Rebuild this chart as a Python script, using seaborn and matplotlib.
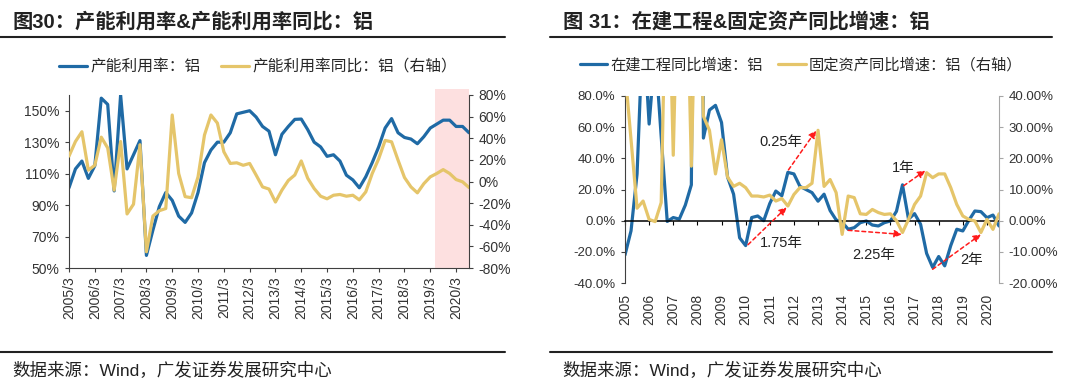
import numpy as np
import pandas as pd
import matplotlib
matplotlib.use('Agg')
import matplotlib.pyplot as plt
import seaborn as sns
from matplotlib.lines import Line2D

sns.set_style('ticks')
plt.rcParams['font.family'] = ['Liberation Sans', 'Noto Sans CJK SC']
plt.rcParams['axes.unicode_minus'] = False

BLUE = '#1f6aa5'
GOLD = '#e5c56a'
INK = '#222222'

# ---- 图30: 季度数据 2005/3 .. 2020/9 ----
cap_util = [101, 113, 118, 107, 115, 158, 154, 99, 160, 113, 122, 131, 58, 74, 89, 98,
            93, 83, 79, 85, 98, 117, 125, 130, 130, 136, 148, 149, 150, 146, 140, 137,
            122, 135, 140, 144.5, 144.7, 138, 130, 127, 121, 122, 118, 109, 106, 101, 108, 117,
            127, 139, 145, 136, 133, 132, 129, 133.5, 139, 141.5, 144, 144, 140, 140, 136]
cap_util_yoy = [23.5, 37, 46, 10.5, 15, 41, 31, -8, 37, -30, -21, 34, -65, -32, -27, -25,
                61.5, 7.4, -14, -15, 4.3, 43, 61.5, 54, 27.5, 16.7, 17.3, 15, 16.7, 6, -5, -7,
                -19, -8, 1, 6, 19, 3, -6.5, -13.6, -16, -12.7, -12, -13.6, -12.7, -17, -9.6, 7.4,
                21, 38, 36.7, 19.8, 3.7, -5, -10.5, -2, 4.3, 7.4, 11, 7.4, 1.8, -0.3, -5.6]
labels_l = [f'{y}/3' for y in range(2005, 2021)]

# ---- 图31 ----
cip_yoy = [-22, -6.5, 30, 128, 62, 110, 54, -0.5, 2, 1, 10, 23, 600, 53, 71, 74,
           63, 28, 17, -11, -16, 2, 3, 0, 11, 19, 16, 31, 30, 22, 20, 18,
           12.5, 17, 6.5, 0.5, -1, -5.5, -4.5, -1.3, -0.2, -2.8, -3.4, -1.3, -0.2, 6, 23, 1,
           4.5, -2.3, -21, -30, -23, -29, -16, -5.5, -6.6, 0.2, 6.2, 5.8, 1.9, 3.6, -3.4]
fai_yoy = [48, 26, 4, 6.3, 0.4, -0.3, 5.8, 100, 21, 100, 100, 17.5, 100, 33.5, 29, 15,
           26, 14, 11, 12, 10.6, 7.9, 7.9, 7.6, 8.2, 6.3, 7.1, 4.7, 8.4, 10.6, 10.6, 12,
           29, 11, 13.2, 9, -4.4, 7.9, 7.4, 2.2, 2, 3.6, 2.6, 2, 2.2, 0, -3.8, 0.4,
           5.2, 7.9, 15.4, 13.8, 15, 15, 10.6, 5.2, 1.5, 0.4, -0.1, -3.8, 0.4, -2.8, 2.2]
labels_r = [str(y) for y in range(2005, 2021)]

# (起点, 终点, 文字位置, 文字)  -- 左轴单位
notes = [((20.4, -15.4), (26.8, 8.6), (26.0, -14.5), '1.75年'),
         ((27.1, 32.6), (31.7, 57.9), (25.9, 50.2), '0.25年'),
         ((37.0, -6.2), (45.9, -8.8), (41.3, -22.0), '2.25年'),
         ((46.2, 22.4), (49.8, 32.2), (46.1, 33.9), '1年'),
         ((51.0, -31.2), (59.0, -8.8), (57.4, -25.0), '2年')]

dfl = pd.DataFrame({'q': range(len(cap_util)), 'util': cap_util, 'yoy': cap_util_yoy})
dfr = pd.DataFrame({'q': range(len(cip_yoy)), 'cip': cip_yoy, 'fai': fai_yoy})

fig = plt.figure(figsize=(10.8, 3.88), dpi=100)
W, H = 1080, 388


def fx(px):
    return px / W


def fy(py):
    return 1 - py / H


def style_y(ax, color, labels, ticks, size):
    ax.set_yticks(ticks, labels=labels)
    ax.tick_params(axis='y', length=3, width=0.8, pad=4, labelsize=size,
                   color=color, labelcolor='#333333')


# ================= 左图 =================
ax1 = fig.add_axes([fx(69), fy(268), fx(469 - 69), (268 - 95) / H])
ax1.axvspan(56.7, 62, ymin=0, ymax=1.035, color='#fde0e0', lw=0, zorder=0, clip_on=False)
sns.lineplot(data=dfl, x='q', y='util', ax=ax1, color=BLUE, lw=2.3)
ax1b = ax1.twinx()
sns.lineplot(data=dfl, x='q', y='yoy', ax=ax1b, color=GOLD, lw=2.3)

ax1.set_xlim(0, 62)
ax1.set_ylim(50, 160)
ax1b.set_ylim(-80, 80)
style_y(ax1, '#404040', [f'{v}%' for v in range(50, 151, 20)], range(50, 151, 20), 10)
style_y(ax1b, '#404040', [f'{v}%' for v in range(-80, 81, 20)], range(-80, 81, 20), 10)
ax1.set_xticks(range(0, 61, 4), labels=labels_l)
ax1.tick_params(axis='x', length=3, width=0.8, pad=3, labelsize=10, labelrotation=90,
                color='#404040', labelcolor='#333333')
for a in (ax1, ax1b):
    a.set_xlabel('')
    a.set_ylabel('')
ax1.spines['top'].set_visible(False)
ax1.spines['right'].set_visible(False)
for s in ('top', 'left', 'bottom'):
    ax1b.spines[s].set_visible(False)
ax1.spines['left'].set_color('#404040')
ax1.spines['bottom'].set_color('#404040')
ax1b.spines['right'].set_color('#404040')

# ================= 右图 =================
ax2 = fig.add_axes([fx(625), fy(283), fx(999 - 625), (283 - 96) / H])
sns.lineplot(data=dfr, x='q', y='cip', ax=ax2, color=BLUE, lw=2.3)
ax2b = ax2.twinx()
sns.lineplot(data=dfr, x='q', y='fai', ax=ax2b, color=GOLD, lw=2.3)

ax2.set_xlim(0, 62)
ax2.set_ylim(-40, 80)
ax2b.set_ylim(-20, 40)
style_y(ax2, '#404040', [f'{v:.1f}%' for v in range(-40, 81, 20)], range(-40, 81, 20), 9.5)
style_y(ax2b, '#a6a6a6', [f'{v:.2f}%' for v in range(-20, 41, 10)], range(-20, 41, 10), 9.5)
for a in (ax2, ax2b):
    a.set_xlabel('')
    a.set_ylabel('')
ax2.spines['bottom'].set_position(('data', 0))
ax2.spines['bottom'].set_color('black')
ax2.spines['bottom'].set_linewidth(1.1)
ax2.spines['top'].set_visible(False)
ax2.spines['right'].set_visible(False)
ax2.spines['left'].set_color('#404040')
for s in ('top', 'left', 'bottom'):
    ax2b.spines[s].set_visible(False)
ax2b.spines['right'].set_color('#a6a6a6')
ax2.set_xticks(range(0, 61, 4))
ax2.tick_params(axis='x', length=3, width=0.8, color='black', labelbottom=False)
sec = ax2.secondary_xaxis('bottom')
sec.set_xticks(range(0, 61, 4), labels=labels_r)
sec.tick_params(axis='x', length=0, pad=8, labelsize=10, labelrotation=90, labelcolor='#333333')
sec.spines['bottom'].set_visible(False)

for start, end, tpos, txt in notes:
    ax2b.annotate('', xy=end, xytext=start, xycoords=ax2.transData, textcoords=ax2.transData,
                  arrowprops=dict(arrowstyle='-|>', color='#ff1a1a', lw=1.1,
                                  linestyle=(0, (2.5, 2)), mutation_scale=11,
                                  shrinkA=0, shrinkB=0))
    ax2b.text(tpos[0], tpos[1], txt, transform=ax2.transData, ha='center', va='center',
              fontsize=10.5, color=INK)

# ================= 标题、图例、来源 =================
fig.text(fx(13), fy(22), '图30：产能利用率&产能利用率同比：铝', fontsize=14.6,
         fontweight='bold', color=INK, ha='left', va='center')
fig.text(fx(563), fy(22), '图 31：在建工程&固定资产同比增速：铝', fontsize=14.6,
         fontweight='bold', color=INK, ha='left', va='center')
for x0, x1 in ((0, 505), (550, 1052)):
    fig.add_artist(Line2D([fx(x0), fx(x1)], [fy(37), fy(37)], color=INK, lw=1.5,
                          transform=fig.transFigure))
    fig.add_artist(Line2D([fx(x0), fx(x1)], [fy(352), fy(352)], color=INK, lw=1.5,
                          transform=fig.transFigure))

h = [Line2D([], [], color=BLUE, lw=2.3), Line2D([], [], color=GOLD, lw=2.3)]
fig.legend(h, ['产能利用率：铝', '产能利用率同比：铝（右轴）'], loc='center',
           bbox_to_anchor=(fx(258), fy(67)), ncol=2, frameon=False, fontsize=11.3,
           handlelength=1.8, handletextpad=0.2, columnspacing=1.3)
fig.legend(h, ['在建工程同比增速：铝', '固定资产同比增速：铝（右轴）'], loc='center',
           bbox_to_anchor=(fx(801), fy(65)), ncol=2, frameon=False, fontsize=11,
           handlelength=1.8, handletextpad=0.2, columnspacing=1.0)

fig.text(fx(12), fy(370), '数据来源：Wind，广发证券发展研究中心', fontsize=12.6,
         color=INK, ha='left', va='center')
fig.text(fx(562), fy(370), '数据来源：Wind，广发证券发展研究中心', fontsize=12.6,
         color=INK, ha='left', va='center')

fig.savefig('out.png', dpi=100)
